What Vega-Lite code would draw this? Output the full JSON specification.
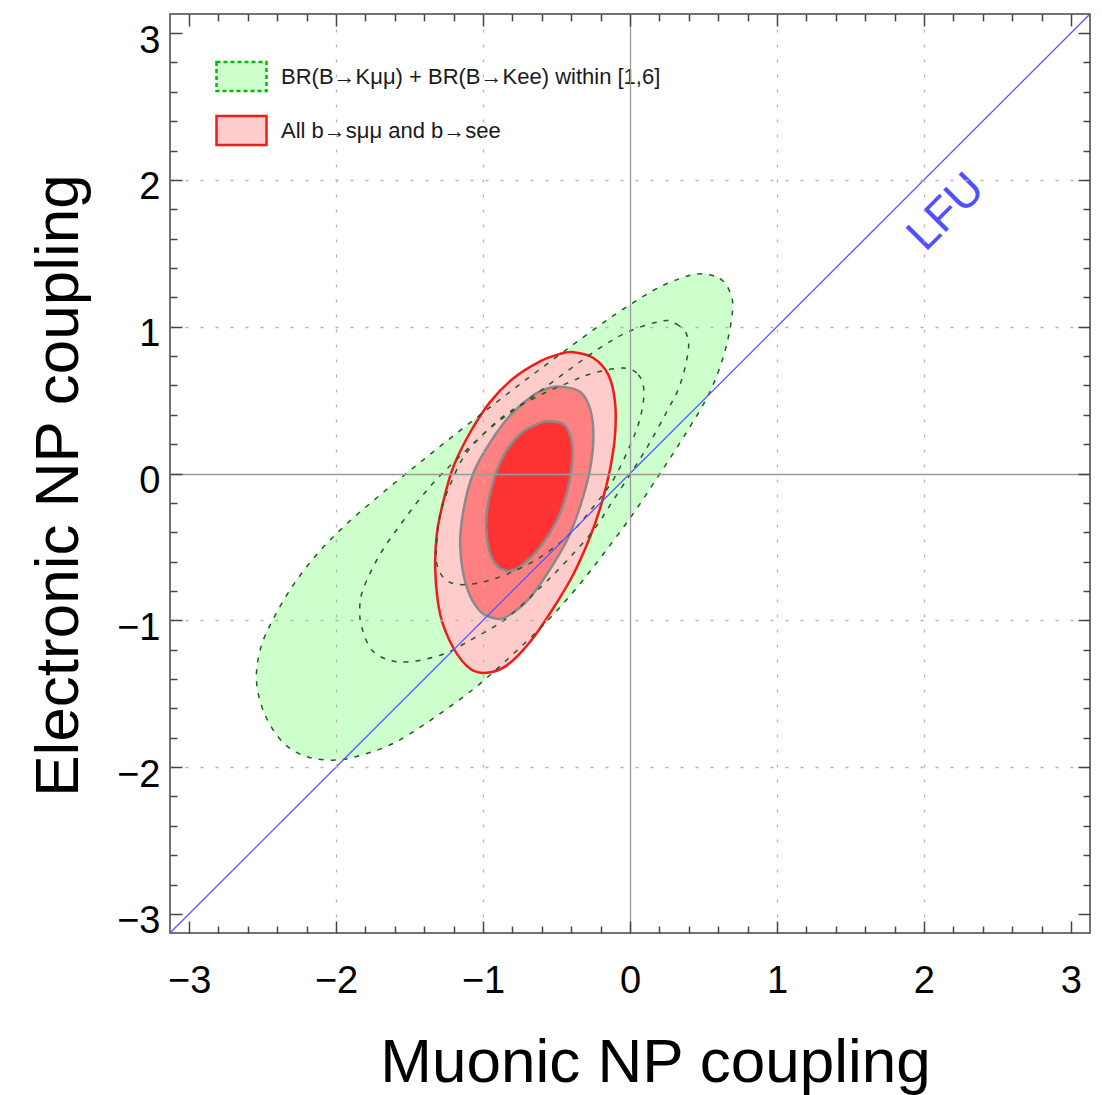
{
  "$schema": "https://vega.github.io/schema/vega-lite/v6.json",
  "width": 920,
  "height": 919,
  "autosize": {"type": "none"},
  "padding": {"left": 170, "top": 14, "right": 12, "bottom": 162},
  "background": "white",
  "config": {
    "font": "Liberation Sans",
    "view": {"stroke": "#444444", "strokeWidth": 1.5},
    "axis": {"tickColor": "#444444", "tickWidth": 1.5, "zindex": 1}
  },
  "datasets": {
    "gOuter": [
      {"i": 0, "x": 0.476, "y": 1.36}, {"i": 1, "x": 0.612, "y": 1.328}, {"i": 2, "x": 0.68, "y": 1.236},
      {"i": 3, "x": 0.698, "y": 1.109}, {"i": 4, "x": 0.646, "y": 0.833}, {"i": 5, "x": 0.544, "y": 0.557},
      {"i": 6, "x": 0.385, "y": 0.281}, {"i": 7, "x": 0.204, "y": 0.0}, {"i": 8, "x": 0.023, "y": -0.272},
      {"i": 9, "x": -0.181, "y": -0.548}, {"i": 10, "x": -0.362, "y": -0.778}, {"i": 11, "x": -0.566, "y": -1.008},
      {"i": 12, "x": -0.804, "y": -1.238}, {"i": 13, "x": -1.065, "y": -1.468}, {"i": 14, "x": -1.382, "y": -1.698},
      {"i": 15, "x": -1.608, "y": -1.837}, {"i": 16, "x": -1.8, "y": -1.91}, {"i": 17, "x": -1.993, "y": -1.952},
      {"i": 18, "x": -2.197, "y": -1.929}, {"i": 19, "x": -2.356, "y": -1.837}, {"i": 20, "x": -2.48, "y": -1.652},
      {"i": 21, "x": -2.541, "y": -1.422}, {"i": 22, "x": -2.514, "y": -1.192}, {"i": 23, "x": -2.424, "y": -0.985},
      {"i": 24, "x": -2.288, "y": -0.755}, {"i": 25, "x": -2.118, "y": -0.536}, {"i": 26, "x": -1.925, "y": -0.341},
      {"i": 27, "x": -1.699, "y": -0.145}, {"i": 28, "x": -1.45, "y": 0.058}, {"i": 29, "x": -1.2, "y": 0.258},
      {"i": 30, "x": -0.929, "y": 0.47}, {"i": 31, "x": -0.657, "y": 0.677}, {"i": 32, "x": -0.385, "y": 0.879},
      {"i": 33, "x": -0.113, "y": 1.075}, {"i": 34, "x": 0.159, "y": 1.247}, {"i": 35, "x": 0.34, "y": 1.328}
    ],
    "gMid": [
      {"i": 0, "x": 0.226, "y": 1.04}, {"i": 1, "x": 0.317, "y": 1.017}, {"i": 2, "x": 0.385, "y": 0.948},
      {"i": 3, "x": 0.396, "y": 0.833}, {"i": 4, "x": 0.34, "y": 0.603}, {"i": 5, "x": 0.249, "y": 0.419},
      {"i": 6, "x": 0.136, "y": 0.212}, {"i": 7, "x": 0.023, "y": 0.028}, {"i": 8, "x": -0.113, "y": -0.18},
      {"i": 9, "x": -0.249, "y": -0.387}, {"i": 10, "x": -0.43, "y": -0.594}, {"i": 11, "x": -0.612, "y": -0.778},
      {"i": 12, "x": -0.838, "y": -0.985}, {"i": 13, "x": -1.065, "y": -1.123}, {"i": 14, "x": -1.291, "y": -1.238},
      {"i": 15, "x": -1.563, "y": -1.284}, {"i": 16, "x": -1.744, "y": -1.215}, {"i": 17, "x": -1.823, "y": -1.054},
      {"i": 18, "x": -1.839, "y": -0.916}, {"i": 19, "x": -1.812, "y": -0.778}, {"i": 20, "x": -1.699, "y": -0.548},
      {"i": 21, "x": -1.54, "y": -0.318}, {"i": 22, "x": -1.359, "y": -0.087}, {"i": 23, "x": -1.178, "y": 0.097},
      {"i": 24, "x": -0.929, "y": 0.327}, {"i": 25, "x": -0.68, "y": 0.511}, {"i": 26, "x": -0.43, "y": 0.695},
      {"i": 27, "x": -0.204, "y": 0.856}, {"i": 28, "x": 0.0, "y": 0.971}
    ],
    "gInner": [
      {"i": 0, "x": -0.045, "y": 0.718}, {"i": 1, "x": 0.057, "y": 0.672}, {"i": 2, "x": 0.095, "y": 0.557},
      {"i": 3, "x": 0.068, "y": 0.373}, {"i": 4, "x": 0.0, "y": 0.189}, {"i": 5, "x": -0.113, "y": -0.041},
      {"i": 6, "x": -0.249, "y": -0.226}, {"i": 7, "x": -0.408, "y": -0.41}, {"i": 8, "x": -0.612, "y": -0.571},
      {"i": 9, "x": -0.838, "y": -0.686}, {"i": 10, "x": -1.019, "y": -0.743}, {"i": 11, "x": -1.178, "y": -0.755},
      {"i": 12, "x": -1.268, "y": -0.709}, {"i": 13, "x": -1.314, "y": -0.617}, {"i": 14, "x": -1.314, "y": -0.456},
      {"i": 15, "x": -1.29, "y": -0.27}, {"i": 16, "x": -1.22, "y": -0.07}, {"i": 17, "x": -1.11, "y": 0.143},
      {"i": 18, "x": -0.883, "y": 0.373}, {"i": 19, "x": -0.657, "y": 0.511}, {"i": 20, "x": -0.43, "y": 0.614},
      {"i": 21, "x": -0.249, "y": 0.684}
    ],
    "rOuter": [
      {"i": 0, "x": -0.385, "y": 0.826}, {"i": 1, "x": -0.249, "y": 0.787}, {"i": 2, "x": -0.147, "y": 0.672},
      {"i": 3, "x": -0.102, "y": 0.488}, {"i": 4, "x": -0.102, "y": 0.258}, {"i": 5, "x": -0.136, "y": 0.028},
      {"i": 6, "x": -0.193, "y": -0.203}, {"i": 7, "x": -0.272, "y": -0.433}, {"i": 8, "x": -0.385, "y": -0.686},
      {"i": 9, "x": -0.521, "y": -0.916}, {"i": 10, "x": -0.679, "y": -1.146}, {"i": 11, "x": -0.838, "y": -1.307},
      {"i": 12, "x": -0.974, "y": -1.358}, {"i": 13, "x": -1.087, "y": -1.33}, {"i": 14, "x": -1.2, "y": -1.192},
      {"i": 15, "x": -1.291, "y": -0.962}, {"i": 16, "x": -1.325, "y": -0.663}, {"i": 17, "x": -1.314, "y": -0.41},
      {"i": 18, "x": -1.268, "y": -0.18}, {"i": 19, "x": -1.2, "y": 0.051}, {"i": 20, "x": -1.087, "y": 0.281},
      {"i": 21, "x": -0.951, "y": 0.488}, {"i": 22, "x": -0.793, "y": 0.649}, {"i": 23, "x": -0.612, "y": 0.764},
      {"i": 24, "x": -0.476, "y": 0.815}
    ],
    "rMid": [
      {"i": 0, "x": -0.464, "y": 0.591}, {"i": 1, "x": -0.34, "y": 0.557}, {"i": 2, "x": -0.272, "y": 0.442},
      {"i": 3, "x": -0.249, "y": 0.258}, {"i": 4, "x": -0.272, "y": 0.028}, {"i": 5, "x": -0.34, "y": -0.226},
      {"i": 6, "x": -0.43, "y": -0.456}, {"i": 7, "x": -0.566, "y": -0.686}, {"i": 8, "x": -0.702, "y": -0.87},
      {"i": 9, "x": -0.838, "y": -0.974}, {"i": 10, "x": -0.906, "y": -0.99}, {"i": 11, "x": -1.019, "y": -0.939},
      {"i": 12, "x": -1.11, "y": -0.778}, {"i": 13, "x": -1.155, "y": -0.502}, {"i": 14, "x": -1.133, "y": -0.249},
      {"i": 15, "x": -1.065, "y": 0.005}, {"i": 16, "x": -0.951, "y": 0.212}, {"i": 17, "x": -0.815, "y": 0.396},
      {"i": 18, "x": -0.657, "y": 0.534}, {"i": 19, "x": -0.544, "y": 0.584}
    ],
    "rInner": [
      {"i": 0, "x": -0.521, "y": 0.354}, {"i": 1, "x": -0.442, "y": 0.327}, {"i": 2, "x": -0.396, "y": 0.212},
      {"i": 3, "x": -0.396, "y": 0.051}, {"i": 4, "x": -0.43, "y": -0.133}, {"i": 5, "x": -0.498, "y": -0.318},
      {"i": 6, "x": -0.612, "y": -0.502}, {"i": 7, "x": -0.725, "y": -0.617}, {"i": 8, "x": -0.815, "y": -0.663},
      {"i": 9, "x": -0.906, "y": -0.628}, {"i": 10, "x": -0.963, "y": -0.502}, {"i": 11, "x": -0.978, "y": -0.318},
      {"i": 12, "x": -0.94, "y": -0.087}, {"i": 13, "x": -0.861, "y": 0.12}, {"i": 14, "x": -0.747, "y": 0.269},
      {"i": 15, "x": -0.612, "y": 0.345}
    ],
    "lfu": [{"x": -3.13, "y": -3.13}, {"x": 3.13, "y": 3.13}],
    "lfuLabel": [{"x": 2.15, "y": 1.78, "t": "LFU"}]
  },
  "resolve": {
    "scale": {"fill": "independent"},
    "axis": {"x": "independent", "y": "independent"}
  },
  "layer": [
    {
      "data": {"name": "gOuter"},
      "mark": {"type": "line", "interpolate": "cardinal-closed", "stroke": "#ccffcc", "strokeWidth": 0.5},
      "encoding": {
        "x": {"field": "x", "type": "quantitative", "scale": {"domain": [-3.13, 3.13], "nice": false, "zero": false},
          "axis": {"orient": "bottom", "values": [-3, -2, -1, 0, 1, 2, 3], "ticks": false, "domain": false,
            "labels": true, "labelFontSize": 38, "labelColor": "#000000", "labelPadding": 59, "labelBaseline": "alphabetic",
            "labelFlush": false, "labelOverlap": false, "labelBound": false,
            "grid": true, "gridWidth": 1.3,
            "gridColor": {"condition": {"test": "datum.value == 0", "value": "#9a9a9a"}, "value": "#b4b4b4"},
            "gridDash": {"condition": {"test": "datum.value == 0", "value": [1, 0]}, "value": [3, 12]},
            "gridOpacity": {"condition": {"test": "abs(datum.value) > 2.5", "value": 0}, "value": 1},
            "title": "Muonic NP coupling", "titleFontSize": 62, "titleFontWeight": "normal", "titleColor": "#000000",
            "titleX": 485, "titleY": 148, "titleBaseline": "alphabetic", "titleAlign": "center", "titleAngle": 0, "zindex": 1}},
        "y": {"field": "y", "type": "quantitative", "scale": {"domain": [-3.13, 3.13], "nice": false, "zero": false},
          "axis": {"orient": "left", "values": [-3, -2, -1, 0, 1, 2, 3], "ticks": false, "domain": false,
            "labels": true, "labelFontSize": 38, "labelColor": "#000000", "labelPadding": 10, "labelBaseline": "alphabetic",
            "labelOffset": 19, "labelAlign": "right", "labelFlush": false, "labelOverlap": false, "labelBound": false,
            "grid": true, "gridWidth": 1.3,
            "gridColor": {"condition": {"test": "datum.value == 0", "value": "#9a9a9a"}, "value": "#b4b4b4"},
            "gridDash": {"condition": {"test": "datum.value == 0", "value": [1, 0]}, "value": [3, 12]},
            "gridOpacity": {"condition": {"test": "abs(datum.value) > 2.5", "value": 0}, "value": 1},
            "title": "Electronic NP coupling", "titleFontSize": 62, "titleFontWeight": "normal", "titleColor": "#000000",
            "titleX": -93, "titleY": 471, "titleBaseline": "alphabetic", "titleAlign": "center", "titleAngle": -90, "zindex": 1}},
        "order": {"field": "i", "type": "quantitative"},
        "fill": {"datum": "BR(B→Kμμ) + BR(B→Kee) within [1,6]", "type": "nominal", "scale": {"range": ["#ccffcc"]},
          "legend": {"orient": "none", "legendX": 45, "legendY": 36, "title": null, "padding": 0,
            "symbolType": "M-1,-0.58H1V0.58H-1Z", "symbolSize": 2500, "symbolStrokeColor": "#00bb00",
            "symbolStrokeWidth": 2.5, "symbolDash": [4, 3], "symbolOpacity": 1,
            "labelFontSize": 22, "labelColor": "#1a1a1a", "labelOffset": 13, "labelLimit": 700}}
      }
    },
    {
      "data": {"name": "rOuter"},
      "mark": {"type": "line", "interpolate": "cardinal-closed", "stroke": "#ee1c1c", "strokeWidth": 2.5},
      "encoding": {
        "x": {"field": "x", "type": "quantitative", "scale": {"domain": [-3.13, 3.13], "nice": false, "zero": false},
          "axis": {"orient": "bottom", "values": [-3, -2, -1, 0, 1, 2, 3], "ticks": true, "tickSize": -12,
            "labels": false, "grid": false, "domain": false, "title": null, "zindex": 1}},
        "y": {"field": "y", "type": "quantitative", "scale": {"domain": [-3.13, 3.13], "nice": false, "zero": false},
          "axis": {"orient": "left", "values": [-3, -2, -1, 0, 1, 2, 3], "ticks": true, "tickSize": -12,
            "labels": false, "grid": false, "domain": false, "title": null, "zindex": 1}},
        "order": {"field": "i", "type": "quantitative"},
        "fill": {"datum": "All b→sμμ and b→see", "type": "nominal", "scale": {"range": ["#ffcccc"]},
          "legend": {"orient": "none", "legendX": 45, "legendY": 90, "title": null, "padding": 0,
            "symbolType": "M-1,-0.58H1V0.58H-1Z", "symbolSize": 2500, "symbolStrokeColor": "#ee1c1c",
            "symbolStrokeWidth": 2.5, "symbolOpacity": 1,
            "labelFontSize": 22, "labelColor": "#1a1a1a", "labelOffset": 13, "labelLimit": 700}}
      }
    },
    {
      "data": {"name": "rMid"},
      "mark": {"type": "line", "interpolate": "cardinal-closed", "fill": "#ff8080", "stroke": "#8a8a8a", "strokeWidth": 2.5},
      "encoding": {
        "x": {"field": "x", "type": "quantitative", "scale": {"domain": [-3.13, 3.13], "nice": false, "zero": false},
          "axis": {"orient": "bottom", "values": [-2.8, -2.6, -2.4, -2.2, -1.8, -1.6, -1.4, -1.2, -0.8, -0.6, -0.4, -0.2, 0.2, 0.4, 0.6, 0.8, 1.2, 1.4, 1.6, 1.8, 2.2, 2.4, 2.6, 2.8],
            "ticks": true, "tickSize": -7, "labels": false, "grid": false, "domain": false, "title": null, "zindex": 1}},
        "y": {"field": "y", "type": "quantitative", "scale": {"domain": [-3.13, 3.13], "nice": false, "zero": false},
          "axis": {"orient": "left", "values": [-2.8, -2.6, -2.4, -2.2, -1.8, -1.6, -1.4, -1.2, -0.8, -0.6, -0.4, -0.2, 0.2, 0.4, 0.6, 0.8, 1.2, 1.4, 1.6, 1.8, 2.2, 2.4, 2.6, 2.8],
            "ticks": true, "tickSize": -7, "labels": false, "grid": false, "domain": false, "title": null, "zindex": 1}},
        "order": {"field": "i", "type": "quantitative"}
      }
    },
    {
      "data": {"name": "rInner"},
      "mark": {"type": "line", "interpolate": "cardinal-closed", "fill": "#ff3333", "stroke": "#8a8a8a", "strokeWidth": 2.5},
      "encoding": {
        "x": {"field": "x", "type": "quantitative", "scale": {"domain": [-3.13, 3.13], "nice": false, "zero": false},
          "axis": {"orient": "top", "values": [-3, -2, -1, 0, 1, 2, 3], "ticks": true, "tickSize": -12,
            "labels": false, "grid": false, "domain": false, "title": null, "zindex": 1}},
        "y": {"field": "y", "type": "quantitative", "scale": {"domain": [-3.13, 3.13], "nice": false, "zero": false},
          "axis": {"orient": "right", "values": [-3, -2, -1, 0, 1, 2, 3], "ticks": true, "tickSize": -12,
            "labels": false, "grid": false, "domain": false, "title": null, "zindex": 1}},
        "order": {"field": "i", "type": "quantitative"}
      }
    },
    {
      "data": {"name": "gOuter"},
      "mark": {"type": "line", "interpolate": "cardinal-closed", "stroke": "#235a23", "strokeWidth": 1.5, "strokeDash": [5, 7]},
      "encoding": {
        "x": {"field": "x", "type": "quantitative", "scale": {"domain": [-3.13, 3.13], "nice": false, "zero": false},
          "axis": {"orient": "top", "values": [-2.8, -2.6, -2.4, -2.2, -1.8, -1.6, -1.4, -1.2, -0.8, -0.6, -0.4, -0.2, 0.2, 0.4, 0.6, 0.8, 1.2, 1.4, 1.6, 1.8, 2.2, 2.4, 2.6, 2.8],
            "ticks": true, "tickSize": -7, "labels": false, "grid": false, "domain": false, "title": null, "zindex": 1}},
        "y": {"field": "y", "type": "quantitative", "scale": {"domain": [-3.13, 3.13], "nice": false, "zero": false},
          "axis": {"orient": "right", "values": [-2.8, -2.6, -2.4, -2.2, -1.8, -1.6, -1.4, -1.2, -0.8, -0.6, -0.4, -0.2, 0.2, 0.4, 0.6, 0.8, 1.2, 1.4, 1.6, 1.8, 2.2, 2.4, 2.6, 2.8],
            "ticks": true, "tickSize": -7, "labels": false, "grid": false, "domain": false, "title": null, "zindex": 1}},
        "order": {"field": "i", "type": "quantitative"}
      }
    },
    {
      "data": {"name": "gMid"},
      "mark": {"type": "line", "interpolate": "cardinal-closed", "stroke": "#235a23", "strokeWidth": 1.5, "strokeDash": [5, 7]},
      "encoding": {
        "x": {"field": "x", "type": "quantitative", "scale": {"domain": [-3.13, 3.13], "nice": false, "zero": false}, "axis": null},
        "y": {"field": "y", "type": "quantitative", "scale": {"domain": [-3.13, 3.13], "nice": false, "zero": false}, "axis": null},
        "order": {"field": "i", "type": "quantitative"}
      }
    },
    {
      "data": {"name": "gInner"},
      "mark": {"type": "line", "interpolate": "cardinal-closed", "stroke": "#235a23", "strokeWidth": 1.5, "strokeDash": [5, 7]},
      "encoding": {
        "x": {"field": "x", "type": "quantitative", "scale": {"domain": [-3.13, 3.13], "nice": false, "zero": false}, "axis": null},
        "y": {"field": "y", "type": "quantitative", "scale": {"domain": [-3.13, 3.13], "nice": false, "zero": false}, "axis": null},
        "order": {"field": "i", "type": "quantitative"}
      }
    },
    {
      "data": {"name": "lfu"},
      "mark": {"type": "line", "stroke": "#5555ff", "strokeWidth": 1.3, "clip": true},
      "encoding": {
        "x": {"field": "x", "type": "quantitative", "scale": {"domain": [-3.13, 3.13], "nice": false, "zero": false}, "axis": null},
        "y": {"field": "y", "type": "quantitative", "scale": {"domain": [-3.13, 3.13], "nice": false, "zero": false}, "axis": null}
      }
    },
    {
      "data": {"name": "lfuLabel"},
      "mark": {"type": "text", "angle": -45, "align": "center", "baseline": "middle", "fontSize": 46, "color": "#4f4fff"},
      "encoding": {
        "x": {"field": "x", "type": "quantitative", "scale": {"domain": [-3.13, 3.13], "nice": false, "zero": false}, "axis": null},
        "y": {"field": "y", "type": "quantitative", "scale": {"domain": [-3.13, 3.13], "nice": false, "zero": false}, "axis": null},
        "text": {"field": "t"}
      }
    }
  ]
}
